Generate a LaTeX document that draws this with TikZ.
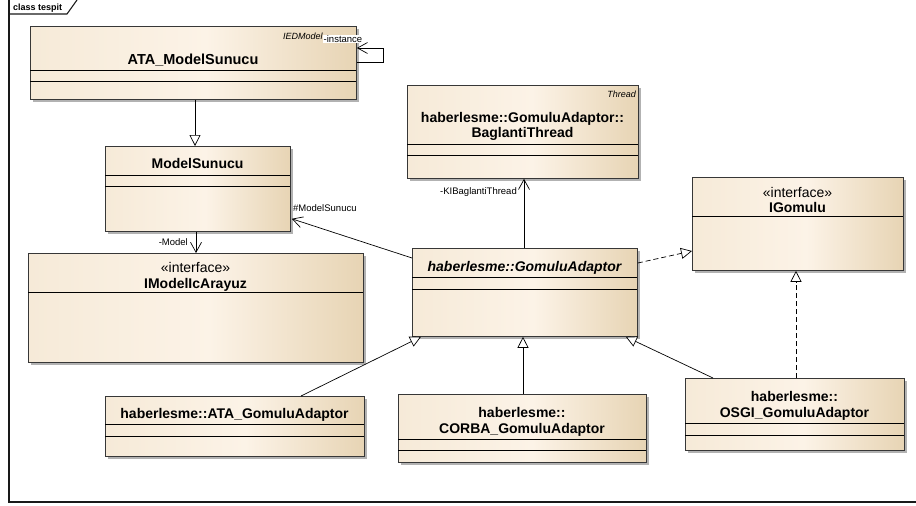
\documentclass[tikz,border=0pt]{standalone}
\usepackage{fontspec}
\setmainfont{Liberation Sans}
\usetikzlibrary{arrows.meta,shadows,calc}
\definecolor{fillA}{RGB}{246,234,216}
\definecolor{fillB}{RGB}{252,243,231}
\definecolor{fillC}{RGB}{231,212,180}
\definecolor{edge}{RGB}{55,55,55}
\pgfdeclarehorizontalshading{umlshade}{100bp}{color(0bp)=(fillA); color(25bp)=(fillA); color(52bp)=(fillB); color(75bp)=(fillC); color(100bp)=(fillC)}
\tikzset{
  umlbox/.style={draw=edge, line width=0.8pt, shading=umlshade, inner sep=0pt, anchor=north west,
    drop shadow={shadow xshift=3pt, shadow yshift=-3pt, fill=black!30, opacity=1}},
  sec/.style={draw=black, line width=0.8pt},
  ttl/.style={font=\fontsize{14}{16}\selectfont\bfseries, inner sep=0pt, anchor=base},
  ster/.style={font=\fontsize{14}{16}\selectfont, inner sep=0pt, anchor=base},
  small/.style={font=\fontsize{9.5}{11}\selectfont, inner sep=0pt},
  gen/.style={draw=black, line width=0.7pt, -{Triangle[open, length=11pt, width=11pt, fill=white]}},
  real/.style={gen, dash pattern=on 5pt off 3pt},
  assoc/.style={draw=black, line width=0.7pt, -{Straight Barb[length=10pt, width=11pt]}},
  frameline/.style={draw=black!90, line width=1.1pt}
}
\begin{document}
\begin{tikzpicture}[x=1pt, y=-1pt]
\useasboundingbox (0,0) rectangle (916,506);
% frame
\draw[frameline] (9,0) -- (9,502) -- (916,502);
\draw[frameline] (9,14) -- (67,14) -- (77,0);
\node[small, font=\fontsize{9}{10}\selectfont\bfseries, anchor=base west] (framelbl) at (13,10) {class tespit};

% boxes
\node[umlbox, minimum width=326pt, minimum height=73pt] (atams) at (30,26) {};
\node[umlbox, minimum width=185pt, minimum height=85pt] (ms) at (105,146) {};
\node[umlbox, minimum width=335pt, minimum height=109pt] (imia) at (28,253) {};
\node[umlbox, minimum width=231pt, minimum height=93pt] (thr) at (407,85) {};
\node[umlbox, minimum width=225pt, minimum height=88pt] (ga) at (412,248) {};
\node[umlbox, minimum width=211pt, minimum height=93pt] (ig) at (692,177) {};
\node[umlbox, minimum width=259pt, minimum height=60pt] (ata) at (105,396) {};
\node[umlbox, minimum width=248pt, minimum height=68pt] (corba) at (398,394) {};
\node[umlbox, minimum width=219pt, minimum height=72pt] (osgi) at (685,378) {};

% compartments
\draw[sec] (30,70) -- (356,70); \draw[sec] (30,81) -- (356,81);
\draw[sec] (105,175) -- (290,175); \draw[sec] (105,186) -- (290,186);
\draw[sec] (28,292) -- (363,292);
\draw[sec] (407,144) -- (638,144); \draw[sec] (407,155) -- (638,155);
\draw[sec] (412,277) -- (637,277); \draw[sec] (412,289) -- (637,289);
\draw[sec] (692,216) -- (903,216);
\draw[sec] (105,424) -- (364,424); \draw[sec] (105,436) -- (364,436);
\draw[sec] (398,439) -- (646,439); \draw[sec] (398,450) -- (646,450);
\draw[sec] (685,423) -- (904,423); \draw[sec] (685,435) -- (904,435);

% titles
\node[ttl, font=\fontsize{14.5}{16}\selectfont\bfseries] (atamsT) at (193,64) {ATA\_ModelSunucu};
\node[small, font=\fontsize{9}{10}\selectfont\itshape, anchor=base west] (atamsS) at (283,39) {IEDModel};
\node[ttl] (msT) at (197.5,168) {ModelSunucu};
\node[ster] (imiaS) at (195.5,272) {«interface»};
\node[ttl] (imiaT) at (195.5,288) {IModelIcArayuz};
\node[small, font=\fontsize{9}{10}\selectfont\itshape, anchor=base east] (thrS) at (636,97) {Thread};
\node[ttl] (thrT1) at (522.5,122) {haberlesme::GomuluAdaptor::};
\node[ttl] (thrT2) at (522.5,137) {BaglantiThread};
\node[ttl, font=\fontsize{14}{16}\selectfont\bfseries\itshape] (gaT) at (524.5,271) {haberlesme::GomuluAdaptor};
\node[ster] (igS) at (797.5,197) {«interface»};
\node[ttl] (igT) at (797.5,212) {IGomulu};
\node[ttl] (ataT) at (234.5,418) {haberlesme::ATA\_GomuluAdaptor};
\node[ttl] (corbaT1) at (522,417) {haberlesme::};
\node[ttl] (corbaT2) at (522,433) {CORBA\_GomuluAdaptor};
\node[ttl] (osgiT1) at (794.5,401) {haberlesme::};
\node[ttl] (osgiT2) at (794.5,417) {OSGI\_GomuluAdaptor};

% connectors
\draw[gen] ($(atams.south west)+(165,0)$) -- ($(ms.north west)+(90,0)$);
\draw[assoc] ($(atams.north east)+(0,36)$) -- ++(27,0) -- ++(0,-14) -- ($(atams.north east)+(0,22)$);
\node[small, fill=white, inner sep=0.5pt, anchor=base west] (instL) at (323,42) {-instance};
\draw[assoc] ($(ms.south west)+(91,0)$) -- ($(imia.north west)+(168,0)$);
\node[small, anchor=base east] (modelL) at (188,245) {-Model};
\draw[assoc] ($(ga.north west)+(112,0)$) -- ($(thr.south west)+(117,0)$);
\node[small, anchor=base east] (kiL) at (517,194) {-KIBaglantiThread};
\draw[assoc] ($(ga.north west)+(0,10)$) -- ($(ms.south east)+(1,-13)$);
\node[small, anchor=base west] (msL) at (293,211) {\#ModelSunucu};
\draw[real] ($(ga.north east)+(0,15)$) -- ($(ig.north west)+(0,74)$);
\draw[real] ($(osgi.north west)+(111,0)$) -- ($(ig.south west)+(104,0)$);
\draw[gen] ($(ata.north west)+(196,0)$) -- ($(ga.south west)+(9,0)$);
\draw[gen] ($(corba.north west)+(125,0)$) -- ($(ga.south west)+(111,0)$);
\draw[gen] ($(osgi.north west)+(28,0)$) -- ($(ga.south east)+(-12,0)$);
\end{tikzpicture}
\end{document}
